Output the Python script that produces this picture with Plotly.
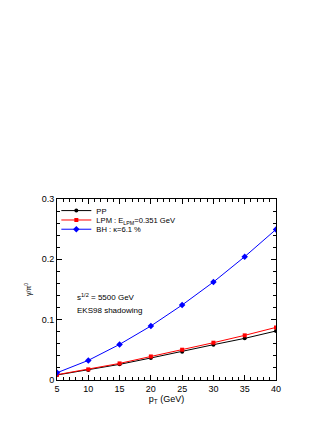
import plotly.graph_objects as go

pt = [5, 10, 15, 20, 25, 30, 35, 40]
pp = [0.0083, 0.0166, 0.0259, 0.0365, 0.0469, 0.0585, 0.0690, 0.0812]
lpm = [0.0088, 0.0176, 0.0275, 0.0390, 0.0502, 0.0618, 0.0740, 0.0872]
bh = [0.0120, 0.0325, 0.0590, 0.0895, 0.1243, 0.1624, 0.2044, 0.2496]

x_ticks = [5, 10, 15, 20, 25, 30, 35, 40]
y_ticks = [0, 0.1, 0.2, 0.3]
y_ticktext = ["0", "0.1", "0.2", "0.3"]

font = "Liberation Sans, Arial, sans-serif"

fig = go.Figure()
fig.add_trace(go.Scatter(x=pt, y=pp, mode="lines+markers", name="PP", legend="legend",
                         line=dict(color="black", width=1),
                         marker=dict(symbol="circle", size=4, color="black")))
fig.add_trace(go.Scatter(x=pt, y=lpm, mode="lines+markers", legend="legend2",
                         name="LPM : E<sub>LPM</sub>=0.351 GeV",
                         line=dict(color="red", width=1),
                         marker=dict(symbol="square", size=4, color="red")))
fig.add_trace(go.Scatter(x=pt, y=bh, mode="lines+markers", legend="legend3",
                         name="BH : κ=6.1 %",
                         line=dict(color="blue", width=1),
                         marker=dict(symbol="diamond", size=5, color="blue")))

axis_common = dict(showline=True, linecolor="black", linewidth=1, mirror="allticks",
                   ticks="inside", ticklen=5, tickcolor="black", showgrid=False,
                   zeroline=False, tickfont=dict(size=9, color="black", family=font))

fig.update_xaxes(range=[5, 40], tickvals=x_ticks,
                 title=dict(text="p<sub>T</sub> (GeV)", font=dict(size=9, color="black", family=font), standoff=2),
                 minor=dict(dtick=1, ticks="inside", ticklen=3, tickcolor="black"),
                 **axis_common)
fig.update_yaxes(range=[0, 0.3], tickvals=y_ticks, ticktext=y_ticktext,
                 title=dict(text="γ/π<sup>0</sup>", font=dict(size=7, color="black", family=font), standoff=9),
                 minor=dict(tickvals=[i * 0.02 for i in range(16)], ticks="inside", ticklen=3, tickcolor="black"),
                 **axis_common)

fig.add_annotation(x=0.082, y=0.42, xref="paper", yref="paper", xanchor="left", yanchor="bottom",
                   text="s<sup>1/2</sup> = 5500 GeV", showarrow=False,
                   font=dict(size=8, color="black", family=font))
fig.add_annotation(x=0.082, y=0.42, xref="paper", yref="paper", xanchor="left", yanchor="top",
                   text="EKS98 shadowing", showarrow=False,
                   font=dict(size=8, color="black", family=font))

leg_common = dict(x=-0.003, xanchor="left", yanchor="middle", bgcolor="rgba(0,0,0,0)",
                  font=dict(size=7.6, family=font, color="black"), itemwidth=30)

fig.update_layout(width=332, height=430,
                  margin=dict(l=49, r=64, t=191, b=58),
                  paper_bgcolor="white", plot_bgcolor="white",
                  font=dict(family=font, color="black"),
                  legend=dict(y=0.936, **leg_common),
                  legend2=dict(y=0.884, **leg_common),
                  legend3=dict(y=0.833, **leg_common),
                  showlegend=True)

fig.write_html("out.html")
